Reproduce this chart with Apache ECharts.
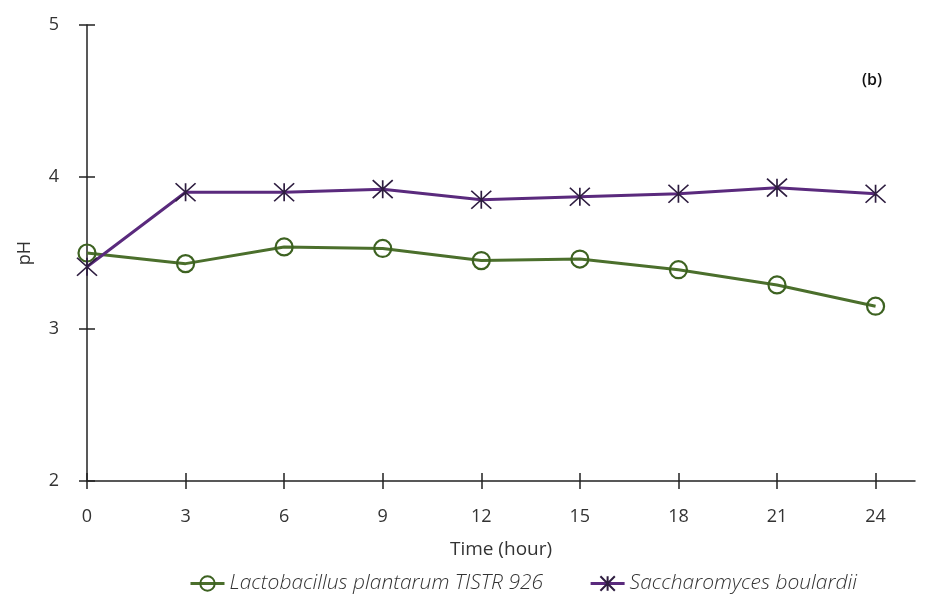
<!DOCTYPE html>
<html><head><meta charset="utf-8">
<script src="https://cdn.jsdelivr.net/npm/echarts@6/dist/echarts.min.js"></script>
<style>html,body{margin:0;padding:0;background:#fff}#c{width:930px;height:599px}</style>
</head><body><div id="c"></div>
<script>
const hours = [0, 3, 6, 9, 12, 15, 18, 21, 24];
const lactobacillus = [3.50, 3.43, 3.54, 3.53, 3.45, 3.46, 3.39, 3.29, 3.15];
const saccharomyces = [3.41, 3.90, 3.90, 3.92, 3.85, 3.87, 3.89, 3.93, 3.89];
const xTicks = [0, 3, 6, 9, 12, 15, 18, 21, 24];
const yTicks = [2, 3, 4, 5];
const seriesNames = ['Lactobacillus plantarum TISTR 926', 'Saccharomyces boulardii'];

const FONT = 'Open Sans';
const green = '#4b6f2c', purple = '#5a2a7d';
const star = 'path://M0,0 L20,18 M20,0 L0,18 M10,0 L10,18';

const chart = echarts.init(document.getElementById('c'));
const axisBase = {
  type: 'value', splitLine: {show: false}
};
chart.setOption({
  animation: false,
  backgroundColor: '#fff',
  grid: {left: 87, right: 15, top: 25, bottom: 118},
  title: {text: '(b)', right: 43, top: 67, textStyle: {fontFamily: FONT, fontSize: 16, fontWeight: 600, color: '#111'}},
  legend: {
    bottom: 0, left: 184, itemGap: 46, itemWidth: 34, itemHeight: 18,
    lineStyle: {width: 3},
    textStyle: {fontFamily: FONT, fontSize: 21, fontStyle: 'italic', fontWeight: 300, color: '#333'},
    data: seriesNames
  },
  xAxis: [
    Object.assign({}, axisBase, {
      min: 0, max: 25.2,
      name: 'Time (hour)', nameLocation: 'middle', nameGap: 59,
      nameTextStyle: {fontFamily: FONT, fontSize: 19, color: '#333'},
      axisLine: {show: true, lineStyle: {color: '#222', width: 1.5}},
      axisTick: {show: true, inside: false, length: 8, customValues: xTicks, lineStyle: {color: '#222', width: 1.5}},
      axisLabel: {customValues: xTicks, margin: 27, fontFamily: FONT, fontSize: 18, color: '#333'}
    }),
    Object.assign({}, axisBase, {
      min: 0, max: 25.2, position: 'bottom',
      axisLine: {show: false},
      axisTick: {show: true, inside: true, length: 8, customValues: xTicks, lineStyle: {color: '#222', width: 1.5}},
      axisLabel: {show: false}
    })
  ],
  yAxis: [
    Object.assign({}, axisBase, {
      min: 2, max: 5, interval: 1,
      name: 'pH', nameLocation: 'middle', nameGap: 53, nameRotate: 90,
      nameTextStyle: {fontFamily: FONT, fontSize: 18, color: '#333'},
      axisLine: {show: true, lineStyle: {color: '#222', width: 1.5}},
      axisTick: {show: true, inside: false, length: 8, lineStyle: {color: '#222', width: 1.5}},
      axisLabel: {margin: 28, fontFamily: FONT, fontSize: 18, color: '#333'}
    }),
    Object.assign({}, axisBase, {
      min: 2, max: 5, interval: 1, position: 'left',
      axisLine: {show: false},
      axisTick: {show: true, inside: true, length: 8, lineStyle: {color: '#222', width: 1.5}},
      axisLabel: {show: false}
    })
  ],
  series: [
    {
      name: seriesNames[0], type: 'line',
      data: hours.map((h, i) => [h, lactobacillus[i]]),
      symbol: 'circle', symbolSize: 17,
      lineStyle: {color: green, width: 3},
      itemStyle: {color: 'rgba(255,255,255,0)', borderColor: '#3d6221', borderWidth: 2.2},
      z: 2
    },
    {
      name: seriesNames[1], type: 'line',
      data: hours.map((h, i) => [h, saccharomyces[i]]),
      symbol: star, symbolSize: [20, 18],
      lineStyle: {color: purple, width: 3},
      itemStyle: {color: 'rgba(0,0,0,0)', borderColor: '#2e1d40', borderWidth: 1.6},
      z: 3
    }
  ]
});
</script></body></html>
